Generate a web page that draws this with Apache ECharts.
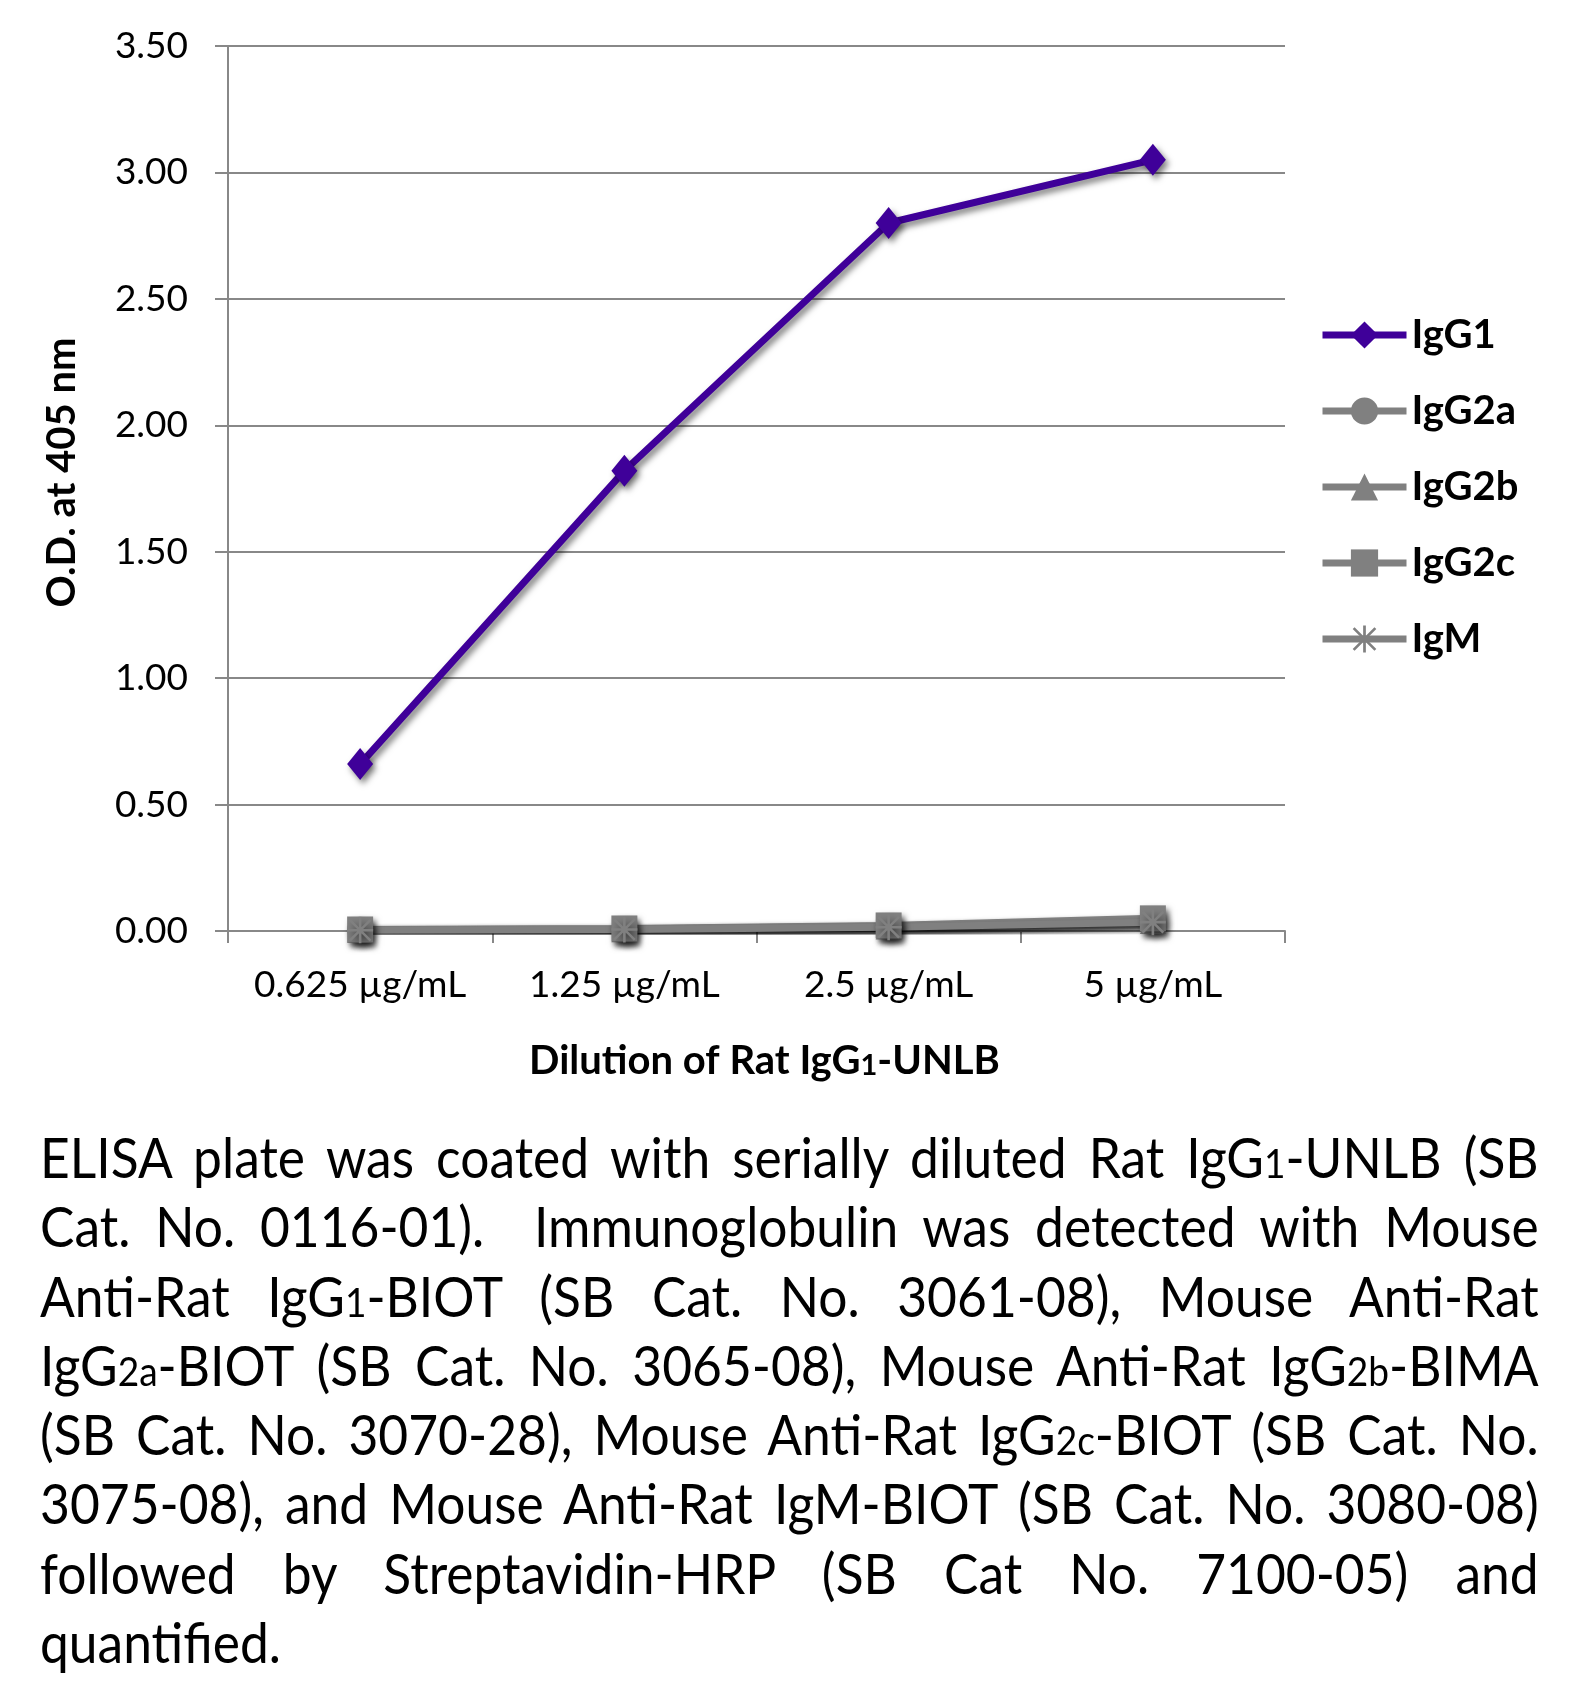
<!DOCTYPE html>
<html>
<head>
<meta charset="utf-8">
<script src="https://cdn.jsdelivr.net/npm/echarts@6/dist/echarts.min.js"></script>
<style>
  html, body { margin: 0; padding: 0; background: #fff; }
  #chart { position: absolute; left: 0; top: 0; width: 1595px; height: 1683px; }
  #caption {
    position: absolute; left: 40px; top: 1122px; width: 1629px;
    transform: scaleX(0.92); transform-origin: 0 0;
    font-family: Lato, "Open Sans", sans-serif; font-size: 56px; line-height: 69.3px; color: #000;
  }
  #caption div { height: 69.3px; text-align: justify; text-align-last: justify; }
  #caption div.last { text-align: left; text-align-last: left; }
  #caption .s { font-size: 0.72em; line-height: 1; }
</style>
</head>
<body>
<div id="chart"></div>
<div id="caption">
  <div>ELISA plate was coated with serially diluted Rat IgG<span class="s">1</span>-UNLB (SB</div>
  <div>Cat. No. 0116-01).&nbsp; Immunoglobulin was detected with Mouse</div>
  <div>Anti-Rat IgG<span class="s">1</span>-BIOT (SB Cat. No. 3061-08), Mouse Anti-Rat</div>
  <div>IgG<span class="s">2a</span>-BIOT (SB Cat. No. 3065-08), Mouse Anti-Rat IgG<span class="s">2b</span>-BIMA</div>
  <div>(SB Cat. No. 3070-28), Mouse Anti-Rat IgG<span class="s">2c</span>-BIOT (SB Cat. No.</div>
  <div>3075-08), and Mouse Anti-Rat IgM-BIOT (SB Cat. No. 3080-08)</div>
  <div>followed by Streptavidin-HRP (SB Cat No. 7100-05) and</div>
  <div class="last">quantified.</div>
</div>
<script>
var categories = ['0.625 µg/mL', '1.25 µg/mL', '2.5 µg/mL', '5 µg/mL'];
var yTicks = [0, 0.5, 1, 1.5, 2, 2.5, 3, 3.5];
var igg1 = [0.66, 1.82, 2.80, 3.05];
var igg2a = [0.005, 0.008, 0.020, 0.045];
var igg2b = [0.004, 0.007, 0.018, 0.040];
var igg2c = [0.006, 0.010, 0.022, 0.050];
var igm = [0.003, 0.006, 0.015, 0.035];

(function(){
  var purple = '#3f0099';
  var gray = '#808080';
  var grid = '#888888';
  var font = 'Lato, "Open Sans", sans-serif';
  var asterisk = 'path://M9 0L11 0L11 20L9 20Z M2.7 1.3L18.7 17.3L17.3 18.7L1.3 2.7Z M17.3 1.3L18.7 2.7L2.7 18.7L1.3 17.3Z M0 9L20 9L20 11L0 11Z';

  function lineSeries(name, data, color, symbol, size) {
    return {
      name: name,
      type: 'line',
      data: data,
      symbol: symbol,
      symbolSize: size,
      lineStyle: { color: color, width: 7, shadowColor: 'rgba(0,0,0,0.5)', shadowBlur: 6, shadowOffsetX: 3, shadowOffsetY: 4 },
      itemStyle: { color: color, shadowColor: 'rgba(0,0,0,0.5)', shadowBlur: 6, shadowOffsetX: 3, shadowOffsetY: 4 }
    };
  }

  var chart = echarts.init(document.getElementById('chart'));
  chart.setOption({
    animation: false,
    textStyle: { fontFamily: font },
    grid: { left: 228, right: 310, top: 46, bottom: 752, containLabel: false },
    legend: {
      orient: 'vertical',
      left: 1314,
      top: 310,
      itemWidth: 84,
      itemHeight: 34,
      itemGap: 36,
      lineStyle: { width: 7 },
      itemStyle: { shadowBlur: 0, shadowOffsetX: 0, shadowOffsetY: 0 },
      textStyle: { fontFamily: font, fontSize: 40, fontWeight: 'bold', color: '#000', lineHeight: 34, padding: [0, 0, 0, 0] },
      data: ['IgG1', 'IgG2a', 'IgG2b', 'IgG2c', 'IgM']
    },
    xAxis: {
      type: 'category',
      data: categories,
      boundaryGap: true,
      axisLine: { lineStyle: { color: grid, width: 2 } },
      axisTick: { show: true, length: 12, lineStyle: { color: grid, width: 2 } },
      axisLabel: { color: '#000', fontSize: 37, margin: 36, fontFamily: font, interval: 0 },
      name: '{b|Dilution of Rat IgG}{s|1}{b|-UNLB}',
      nameLocation: 'middle',
      nameGap: 110,
      nameTextStyle: {
        padding: [0, 0, 0, 16],
        rich: {
          b: { fontFamily: font, fontSize: 40, fontWeight: 'bold', color: '#000' },
          s: { fontFamily: font, fontSize: 29, fontWeight: 'bold', color: '#000', padding: [10, 0, 0, 0] }
        }
      }
    },
    yAxis: {
      type: 'value',
      min: yTicks[0],
      max: yTicks[yTicks.length - 1],
      interval: 0.5,
      axisLine: { show: true, lineStyle: { color: grid, width: 2 } },
      axisTick: { show: true, inside: false, length: 13, lineStyle: { color: grid, width: 2 } },
      splitLine: { lineStyle: { color: grid, width: 2 } },
      axisLabel: { color: '#000', fontSize: 37, margin: 40, fontFamily: font, formatter: function(v){ return v.toFixed(2); } },
      name: 'O.D. at 405 nm',
      nameLocation: 'middle',
      nameGap: 146,
      nameRotate: 90,
      nameTextStyle: { fontFamily: font, fontSize: 40, fontWeight: 'bold', color: '#000', padding: [0, 0, 0, 32] }
    },
    series: [
      lineSeries('IgG1', igg1, purple, 'diamond', [26, 32]),
      lineSeries('IgG2a', igg2a, gray, 'circle', 26),
      lineSeries('IgG2b', igg2b, gray, 'triangle', 26),
      lineSeries('IgG2c', igg2c, gray, 'rect', 26),
      lineSeries('IgM', igm, gray, asterisk, 26)
    ]
  });
})();
</script>
</body>
</html>
